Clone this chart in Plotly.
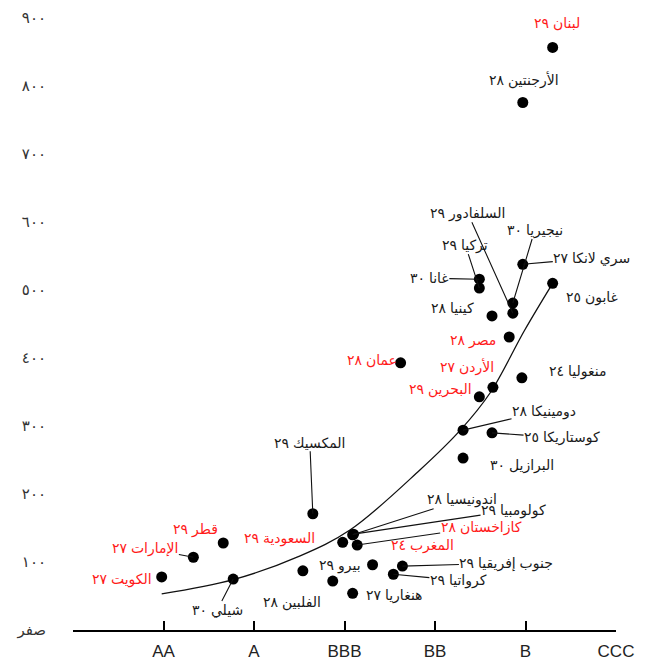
import plotly.graph_objects as go

# ---- data ----
rating_labels = ["AA", "A", "BBB", "BB", "B", "CCC"]
y_tick_values = [0, 100, 200, 300, 400, 500, 600, 700, 800, 900]
y_tick_text = ["صفر", "١٠٠", "٢٠٠", "٣٠٠", "٤٠٠", "٥٠٠", "٦٠٠", "٧٠٠", "٨٠٠", "٩٠٠"]

countries = [
    "لبنان ٢٩", "الأرجنتين ٢٨", "سري لانكا ٢٧", "غانا ٣٠", "تركيا ٢٩",
    "نيجيريا ٣٠", "السلفادور ٢٩", "كينيا ٢٨", "غابون ٢٥", "مصر ٢٨",
    "عمان ٢٨", "منغوليا ٢٤", "الأردن ٢٧", "البحرين ٢٩", "دومينيكا ٢٨",
    "كوستاريكا ٢٥", "البرازيل ٣٠", "المكسيك ٢٩", "اندونيسيا ٢٨", "كولومبيا ٢٩",
    "كازاخستان ٢٨", "السعودية ٢٩", "قطر ٢٩", "الإمارات ٢٧", "الكويت ٢٧",
    "شيلي ٣٠", "بيرو ٢٩", "الفلبين ٢٨", "هنغاريا ٢٧", "المغرب ٢٤",
    "كرواتيا ٢٩", "جنوب إفريقيا ٢٩",
]
rating_score = [
    5.30, 4.97, 4.97, 4.49, 4.49,
    4.86, 4.86, 4.63, 5.30, 4.82,
    3.62, 4.96, 4.64, 4.49, 4.31,
    4.63, 4.31, 2.65, 3.09, 3.10,
    3.14, 2.98, 1.66, 1.33, 0.98,
    1.77, 2.54, 2.87, 3.09, 3.31,
    3.54, 3.64,
]
spread_bp = [
    857, 776, 538, 516, 503,
    481, 466, 462, 510, 431,
    393, 371, 357, 343, 294,
    290, 253, 171, 140, 141,
    125, 129, 128, 107, 78,
    75, 87, 72, 54, 96,
    82, 94,
]
highlighted = [
    1, 0, 0, 0, 0,
    0, 0, 0, 0, 1,
    1, 0, 1, 1, 0,
    0, 0, 0, 0, 0,
    1, 1, 1, 1, 1,
    0, 0, 0, 0, 1,
    0, 0,
]

trend_x = [0.98, 1.77, 2.51, 3.06, 3.83, 4.28, 4.61, 4.99, 5.30]
trend_y = [53, 74, 109, 147, 235, 294, 349, 441, 510]

# ---- label layout (pixel offsets from the dot, and leader flag) ----
label_offsets = [
    (4, -24, False), (1, -22, False), (69, -6, True), (-50, -1, True), (-14, -43, True),
    (22, -73, True), (-45, -100, True), (-40, -8, False), (39, 14, False), (-36, 3, False),
    (-29, -3, False), (56, -6, False), (-26, -20, False), (-39, -7, False), (81, -19, True),
    (70, 5, True), (59, 7, False), (-3, -71, True), (109, -35, True), (160, -24, True),
    (124, -18, True), (-63, -4, False), (-28, -13, False), (-48, -9, True), (-40, 3, False),
    (-16, 31, True), (37, -5, False), (-41, 21, False), (42, 2, False), (50, -19, False),
    (65, 6, True), (104, -3, True),
]

RED = "#ff1a1a"
BLACK = "#1a1a1a"
LABEL_FONT = "Arial, 'DejaVu Sans', sans-serif"
LABEL_SIZE = 14

fig = go.Figure()

fig.add_trace(go.Scatter(
    x=trend_x, y=trend_y, mode="lines",
    line=dict(color="#111", width=1.3, shape="spline", smoothing=1.0),
    hoverinfo="skip", showlegend=False,
))

fig.add_trace(go.Scatter(
    x=rating_score, y=spread_bp, mode="markers",
    marker=dict(color="#000", size=11),
    text=countries, hoverinfo="text", showlegend=False,
))

annotations = []
for name, xv, yv, hl, (dx, dy, leader) in zip(countries, rating_score, spread_bp, highlighted, label_offsets):
    col = RED if hl else BLACK
    if leader:
        annotations.append(dict(
            x=xv, y=yv, text=name, showarrow=True, ax=dx, ay=dy,
            arrowhead=0, arrowwidth=1.1, arrowcolor="#111", standoff=0,
            font=dict(family=LABEL_FONT, size=LABEL_SIZE, color=col), borderpad=0,
        ))
    else:
        annotations.append(dict(
            x=xv, y=yv, text=name, showarrow=False, xshift=dx, yshift=-dy,
            font=dict(family=LABEL_FONT, size=LABEL_SIZE, color=col),
        ))

# the page body adds an 8px margin, so the figure is sized to fit the window
fig.update_layout(
    width=644, height=657,
    margin=dict(l=65, r=36, t=0, b=35),
    paper_bgcolor="white", plot_bgcolor="white",
    annotations=annotations,
    xaxis=dict(
        range=[0, 6], tickvals=[0, 1, 2, 3, 4, 5, 6], ticktext=[""] + rating_labels,
        showgrid=False, zeroline=False, showline=True, linecolor="#000", linewidth=1.5,
        ticks="inside", ticklen=9, tickwidth=1.5, tickcolor="#000",
        tickfont=dict(family="Arial, 'Liberation Sans', sans-serif", size=17, color="#222"),
        ticklabelstandoff=5, automargin=False,
    ),
    yaxis=dict(
        range=[0, 915], tickvals=y_tick_values, ticktext=y_tick_text,
        showgrid=False, zeroline=False, showline=False,
        ticks="", tickfont=dict(family=LABEL_FONT, size=15, color="#333"),
        ticklabelstandoff=26, automargin=False,
    ),
)

fig.write_html("out.html")
